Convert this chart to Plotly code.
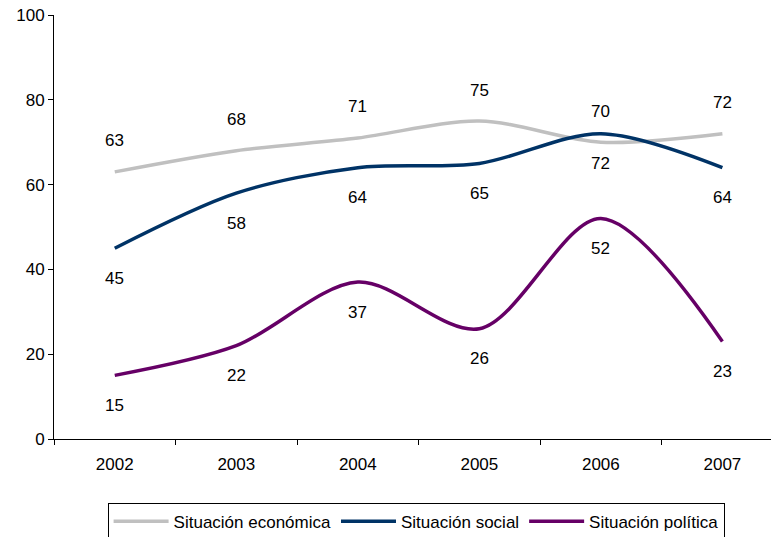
import plotly.graph_objects as go

years = ["2002", "2003", "2004", "2005", "2006", "2007"]
economica = [63, 68, 71, 75, 70, 72]
social = [45, 58, 64, 65, 72, 64]
politica = [15, 22, 37, 26, 52, 23]

series = [
    ("Situación económica", economica, "#C0C0C0", 31),
    ("Situación social", social, "#003366", -30),
    ("Situación política", politica, "#660066", -30),
]

FONT = "Liberation Sans, Arial, sans-serif"
fig = go.Figure()
for name, vals, color, shift in series:
    fig.add_trace(go.Scatter(
        x=years, y=vals, name=name, mode="lines",
        line=dict(color=color, width=3.5, shape="spline", smoothing=0.9),
        hoverinfo="skip",
    ))
    for i, v in enumerate(vals):
        fig.add_annotation(x=i, y=v, xref="x", yref="y", text=str(v),
                           showarrow=False, yshift=shift,
                           font=dict(family=FONT, size=17, color="#000000"))

fig.update_layout(
    width=771, height=537,
    margin=dict(l=54, r=0, t=15, b=98, autoexpand=False),
    paper_bgcolor="white", plot_bgcolor="white",
    font=dict(family=FONT, size=17, color="#000000"),
    showlegend=True,
    legend=dict(orientation="h", x=0.505, xanchor="center", y=-0.150, yanchor="top",
                bordercolor="#000000", borderwidth=1, font=dict(size=17),
                itemwidth=55, tracegroupgap=0),
)
fig.update_xaxes(
    type="category", range=[-0.5, 5.4], showgrid=False, zeroline=False,
    showline=True, linecolor="#000000", linewidth=1,
    ticks="outside", tickson="boundaries", ticklen=5, tickcolor="#000000",
    tickfont=dict(size=17), ticklabelstandoff=10,
)
fig.update_yaxes(
    range=[0, 100], dtick=20, showgrid=False, zeroline=False,
    showline=True, linecolor="#000000", linewidth=1,
    ticks="outside", ticklen=5, tickcolor="#000000", tickfont=dict(size=17),
)
fig.write_html("out.html", config={"displayModeBar": False},
               post_script="document.body.style.margin='0';document.body.style.padding='0';")
